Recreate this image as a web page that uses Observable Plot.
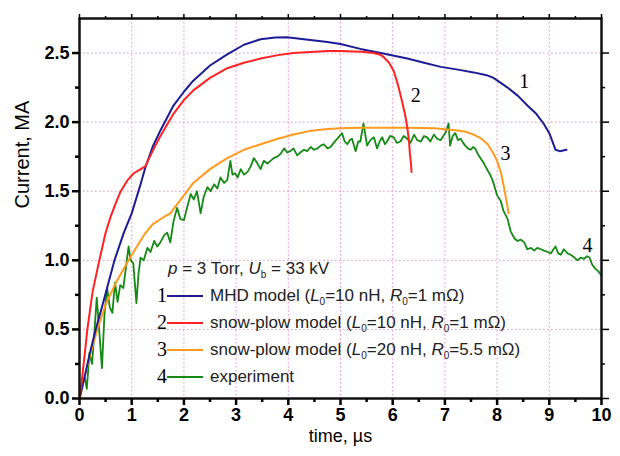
<!DOCTYPE html>
<html>
<head>
<meta charset="utf-8">
<script src="https://cdn.jsdelivr.net/npm/d3@7"></script>
<script src="https://cdn.jsdelivr.net/npm/@observablehq/plot@0.6"></script>
<style>
  html, body { margin: 0; padding: 0; background: white; }
  #wrap { position: relative; width: 620px; height: 456px; }
  #legend { position: absolute; left: 155px; top: 255px; font-family: "Liberation Sans", Arial, sans-serif; font-size: 17px; color: #222; }
  #legend .hdr { height: 27px; line-height: 27px; padding-left: 13px; }
  #legend .row { height: 27px; display: flex; align-items: center; }
  #legend .num { width: 12px; text-align: right; font-family: "Liberation Serif", "Times New Roman", serif; font-size: 20px; color: #000; }
  #legend .txt { margin-left: 7px; }
  #legend sub { font-size: 10px; vertical-align: -4px; line-height: 0; }
</style>
</head>
<body>
<div id="wrap"></div>
<script>
// ---- data (time in µs, current in MA) ----
const mhd = [[0,0],[0.1,0.16],[0.2,0.33],[0.31,0.5],[0.45,0.69],[0.67,1.0],[0.85,1.2],[1.0,1.34],[1.17,1.55],[1.26,1.67],[1.4,1.82],[1.55,1.94],[1.8,2.12],[2.0,2.22],[2.18,2.30],[2.5,2.41],[2.83,2.49],[3.15,2.56],[3.47,2.60],[3.75,2.612],[3.98,2.615],[4.3,2.60],[4.75,2.58],[5.0,2.565],[5.38,2.53],[5.77,2.50],[6.28,2.46],[6.6,2.43],[6.92,2.40],[7.25,2.38],[7.55,2.36],[7.8,2.34],[7.93,2.32],[8.05,2.29],[8.2,2.25],[8.4,2.19],[8.58,2.12],[8.75,2.06],[8.89,1.99],[9.0,1.92],[9.12,1.80],[9.2,1.79],[9.33,1.80]];
const snowplow10 = [[0,0],[0.05,0.15],[0.1,0.32],[0.15,0.5],[0.25,0.77],[0.38,1.0],[0.5,1.2],[0.6,1.32],[0.7,1.42],[0.79,1.50],[0.92,1.58],[1.04,1.63],[1.15,1.655],[1.26,1.68],[1.4,1.79],[1.55,1.90],[1.8,2.06],[2.0,2.16],[2.18,2.23],[2.5,2.32],[2.83,2.39],[3.15,2.43],[3.47,2.46],[3.8,2.485],[4.1,2.50],[4.75,2.515],[5.0,2.515],[5.4,2.51],[5.63,2.50],[5.75,2.49],[5.83,2.47],[5.93,2.43],[6.02,2.37],[6.1,2.27],[6.18,2.15],[6.24,2.05],[6.28,1.96],[6.31,1.87],[6.33,1.77],[6.35,1.70],[6.36,1.64]];
const snowplow20 = [[0,0],[0.1,0.16],[0.2,0.31],[0.34,0.5],[0.5,0.68],[0.7,0.84],[0.94,1.0],[1.1,1.1],[1.23,1.18],[1.4,1.26],[1.6,1.31],[1.74,1.34],[1.88,1.41],[2.0,1.47],[2.18,1.56],[2.5,1.66],[2.83,1.74],[3.15,1.80],[3.47,1.84],[3.8,1.88],[4.1,1.91],[4.4,1.935],[4.75,1.95],[5.0,1.955],[5.38,1.96],[6.28,1.96],[6.8,1.955],[7.24,1.94],[7.4,1.93],[7.55,1.91],[7.7,1.88],[7.82,1.84],[7.92,1.78],[8.0,1.72],[8.07,1.64],[8.12,1.55],[8.17,1.45],[8.22,1.34]];
const experiment = [[0,0],[0.05,0.08],[0.1,0.16],[0.14,0.07],[0.19,0.33],[0.24,0.25],[0.28,0.45],[0.33,0.73],[0.38,0.48],[0.43,0.22],[0.48,0.62],[0.53,0.80],[0.58,0.66],[0.63,0.62],[0.68,0.84],[0.73,0.70],[0.78,0.82],[0.84,0.80],[0.9,0.98],[0.94,1.10],[0.98,1.00],[1.03,0.98],[1.09,0.69],[1.13,0.90],[1.17,1.02],[1.23,1.00],[1.3,1.09],[1.36,1.06],[1.43,1.14],[1.49,1.10],[1.55,1.13],[1.62,1.18],[1.68,1.20],[1.74,1.13],[1.8,1.28],[1.87,1.38],[1.93,1.30],[2.0,1.29],[2.06,1.38],[2.13,1.48],[2.19,1.44],[2.25,1.50],[2.32,1.34],[2.38,1.46],[2.45,1.53],[2.51,1.50],[2.58,1.55],[2.64,1.52],[2.7,1.60],[2.77,1.56],[2.83,1.58],[2.89,1.72],[2.93,1.62],[2.98,1.63],[3.03,1.60],[3.09,1.66],[3.15,1.62],[3.22,1.64],[3.28,1.68],[3.34,1.74],[3.41,1.70],[3.47,1.66],[3.53,1.72],[3.6,1.70],[3.66,1.72],[3.72,1.74],[3.79,1.75],[3.85,1.77],[3.92,1.81],[3.98,1.78],[4.04,1.79],[4.1,1.81],[4.17,1.76],[4.23,1.78],[4.3,1.80],[4.36,1.79],[4.43,1.82],[4.49,1.80],[4.56,1.81],[4.62,1.83],[4.68,1.84],[4.75,1.81],[4.81,1.82],[4.87,1.85],[4.94,1.88],[5.03,1.92],[5.08,1.86],[5.13,1.84],[5.18,1.87],[5.22,1.88],[5.29,1.79],[5.34,1.86],[5.38,1.86],[5.44,1.99],[5.51,1.83],[5.57,1.87],[5.64,1.89],[5.70,1.81],[5.75,1.86],[5.8,1.89],[5.85,1.84],[5.89,1.86],[5.95,1.90],[6.02,1.89],[6.08,1.85],[6.15,1.86],[6.21,1.90],[6.28,1.88],[6.34,1.85],[6.41,1.91],[6.47,1.87],[6.54,1.86],[6.6,1.90],[6.66,1.89],[6.72,1.86],[6.79,1.91],[6.85,1.88],[6.92,1.87],[6.97,1.90],[7.02,1.93],[7.07,1.99],[7.1,1.83],[7.15,1.90],[7.2,1.92],[7.25,1.87],[7.3,1.88],[7.35,1.85],[7.39,1.83],[7.44,1.81],[7.49,1.80],[7.54,1.82],[7.58,1.81],[7.63,1.77],[7.68,1.74],[7.75,1.70],[7.82,1.65],[7.88,1.61],[7.93,1.56],[8.0,1.47],[8.07,1.43],[8.12,1.36],[8.2,1.30],[8.26,1.21],[8.33,1.16],[8.39,1.14],[8.45,1.15],[8.52,1.13],[8.58,1.08],[8.65,1.09],[8.71,1.07],[8.77,1.09],[8.84,1.08],[8.9,1.07],[8.97,1.06],[9.03,1.05],[9.08,1.08],[9.12,1.10],[9.17,1.05],[9.22,1.04],[9.28,1.08],[9.35,1.05],[9.41,1.04],[9.48,1.02],[9.54,1.00],[9.6,1.02],[9.67,1.01],[9.72,1.03],[9.77,1.02],[9.82,0.97],[9.88,0.94],[9.94,0.92],[10.0,0.89]];

const seriesColors = ["#1c1c96", "#ff2222", "#ff9a1e", "#148a14"];
const curveLabels = [
  {x: 8.52, y: 2.29, text: "1"},
  {x: 6.44, y: 2.19, text: "2"},
  {x: 8.16, y: 1.77, text: "3"},
  {x: 9.73, y: 1.11, text: "4"}
];
const xMajorTicks = [0,1,2,3,4,5,6,7,8,9,10];
const xMinorTicks = [0.5,1.5,2.5,3.5,4.5,5.5,6.5,7.5,8.5,9.5];
const yMajorTicks = [0,0.5,1,1.5,2,2.5];
const yMinorTicks = [0.25,0.75,1.25,1.75,2.25];
const xGrid = [1,2,3,4,5,6,7,8,9];
const yGrid = [0.5,1,1.5,2,2.5];
const legendNums = ["1","2","3","4"];
const legendLabels = [
  "MHD model (<i>L</i><sub>0</sub>=10 nH, <i>R</i><sub>0</sub>=1 mΩ)",
  "snow-plow model (<i>L</i><sub>0</sub>=10 nH, <i>R</i><sub>0</sub>=1 mΩ)",
  "snow-plow model (<i>L</i><sub>0</sub>=20 nH, <i>R</i><sub>0</sub>=5.5 mΩ)",
  "experiment"
];
const legendHeader = "<i>p</i> = 3 Torr, <i>U</i><sub>b</sub> = 33 kV";

const gridStyle = {stroke: "#f27bc4", strokeOpacity: 0.9, strokeWidth: 1, strokeDasharray: "1.5,2.5"};
const lineStyle = {x: d => d[0], y: d => d[1], strokeWidth: 2, curve: "linear"};
const tickFont = {fontSize: 18, fontWeight: "bold", fontFamily: "Liberation Sans, Arial, sans-serif"};

const chart = Plot.plot({
  width: 620,
  height: 456,
  marginLeft: 79,
  marginRight: 19,
  marginTop: 18,
  marginBottom: 58,
  x: {domain: [0, 10]},
  y: {domain: [0, 2.75]},
  style: {fontFamily: "Liberation Sans, Arial, sans-serif", background: "white", color: "black"},
  marks: [
    Plot.gridX(xGrid, gridStyle),
    Plot.gridY(yGrid, gridStyle),
    Plot.line(experiment, {...lineStyle, stroke: seriesColors[3], strokeWidth: 1.8}),
    Plot.line(snowplow20, {...lineStyle, stroke: seriesColors[2]}),
    Plot.line(mhd, {...lineStyle, stroke: seriesColors[0]}),
    Plot.line(snowplow10, {...lineStyle, stroke: seriesColors[1]}),
    Plot.text(curveLabels, {x: "x", y: "y", text: "text", fontFamily: "Liberation Serif, Times New Roman, serif", fontSize: 20, fill: "black"}),
    Plot.frame({stroke: "#111", strokeWidth: 2.5}),
    Plot.axisX(xMajorTicks, {anchor: "bottom", tickSize: 7, tickPadding: 3, strokeWidth: 2.5, ...tickFont, label: null}),
    Plot.axisX(xMinorTicks, {anchor: "bottom", tickSize: 4, strokeWidth: 2.5, fill: "none", label: null}),
    Plot.axisX(xMajorTicks, {anchor: "top", tickSize: 5, strokeWidth: 1.5, fill: "none", label: null}),
    Plot.axisX(xMinorTicks, {anchor: "top", tickSize: 3, strokeWidth: 1.5, fill: "none", label: null}),
    Plot.axisY(yMajorTicks, {anchor: "left", tickSize: 7, tickPadding: 3, strokeWidth: 2.5, ...tickFont, tickFormat: d3.format(".1f"), label: null}),
    Plot.axisY(yMinorTicks, {anchor: "left", tickSize: 4, strokeWidth: 2.5, fill: "none", label: null}),
    Plot.axisY(yMajorTicks, {anchor: "right", tickSize: 7, strokeWidth: 1.5, fill: "none", label: null}),
    Plot.axisY(yMinorTicks, {anchor: "right", tickSize: 3, strokeWidth: 1.5, fill: "none", label: null}),
    Plot.text(["time, µs"], {text: d => d, frameAnchor: "bottom", dy: 43, fontSize: 18, fill: "black"}),
    Plot.text(["Current, MA"], {text: d => d, frameAnchor: "left", dx: -57, rotate: -90, fontSize: 20, fill: "black"})
  ]
});

const wrap = document.getElementById("wrap");
wrap.appendChild(chart);

const legend = document.createElement("div");
legend.id = "legend";
let html = `<div class="hdr">${legendHeader}</div>`;
legendNums.forEach((n, i) => {
  html += `<div class="row"><span class="num">${n}</span><svg width="36" height="4" style="display:block"><line x1="0" x2="36" y1="2" y2="2" stroke="${seriesColors[i]}" stroke-width="2"/></svg><span class="txt">${legendLabels[i]}</span></div>`;
});
legend.innerHTML = html;
wrap.appendChild(legend);
</script>
</body>
</html>
